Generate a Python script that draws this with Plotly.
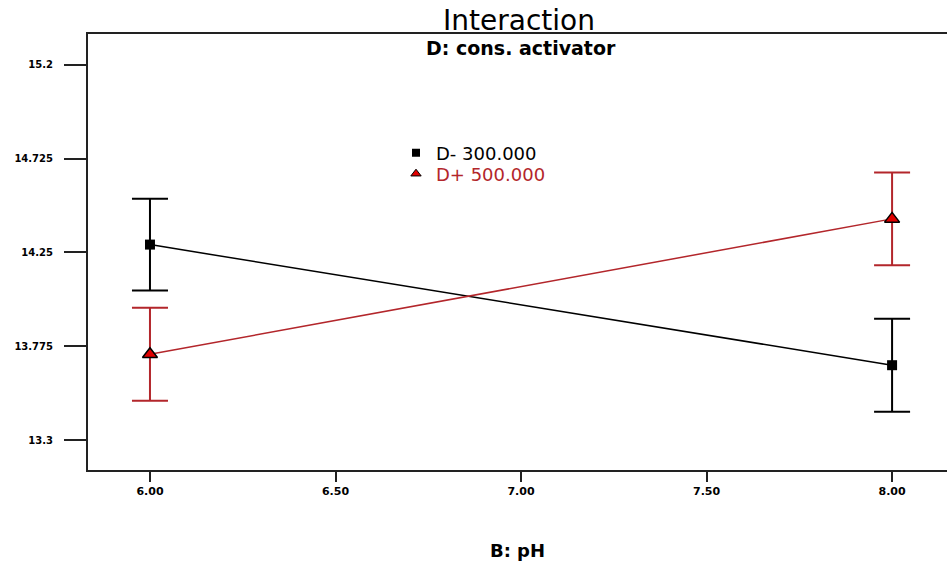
import plotly.graph_objects as go

ph = [6.0, 8.0]
d_minus = [14.29, 13.68]
d_minus_err = [0.232, 0.235]
d_plus = [13.735, 14.42]
d_plus_err = [0.235, 0.235]
ytick_vals = [13.3, 13.775, 14.25, 14.725, 15.2]
ytick_text = ["13.3", "13.775", "14.25", "14.725", "15.2"]
xtick_vals = [6.0, 6.5, 7.0, 7.5, 8.0]
xtick_text = ["6.00", "6.50", "7.00", "7.50", "8.00"]

RED = "#b3262b"
FONT = "DejaVu Sans, Arial, sans-serif"

W, H, L, T, B = 947, 565, 88, 34, 95
pw, phh = W - L, H - T - B


def px(x):
    return (x - L) / pw


def py(y):
    return (H - B - y) / phh


fig = go.Figure()
fig.add_trace(go.Scatter(
    x=ph, y=d_minus, mode="lines+markers", showlegend=False,
    line=dict(color="black", width=1.5),
    marker=dict(symbol="square", size=10, color="black"),
    error_y=dict(type="data", array=d_minus_err, color="black", thickness=2, width=18),
))
fig.add_trace(go.Scatter(
    x=ph, y=d_plus, mode="lines+markers", showlegend=False,
    line=dict(color=RED, width=1.5),
    marker=dict(symbol="triangle-up", size=13, color="#e00000", line=dict(color="black", width=1.5)),
    error_y=dict(type="data", array=d_plus_err, color=RED, thickness=2, width=18),
))
fig.add_trace(go.Scatter(
    x=[None], y=[None], mode="markers", name="D- 300.000", legend="legend",
    marker=dict(symbol="square", size=8, color="black"),
))
fig.add_trace(go.Scatter(
    x=[None], y=[None], mode="markers", name="D+ 500.000", legend="legend2",
    marker=dict(symbol="triangle-up", size=9, color="#e00000", line=dict(color="black", width=1)),
))

leg_common = dict(xanchor="left", yanchor="middle", bgcolor="rgba(0,0,0,0)", itemwidth=30,
                  borderwidth=0)

fig.update_layout(
    width=W, height=H,
    margin=dict(l=L, r=0, t=T, b=B),
    paper_bgcolor="white", plot_bgcolor="white",
    font=dict(family=FONT, color="black"),
    showlegend=True,
    legend=dict(x=px(415 - 19), y=py(153), font=dict(size=18, color="black"), **leg_common),
    legend2=dict(x=px(415 - 19), y=py(174), font=dict(size=18, color=RED), **leg_common),
    xaxis=dict(range=[5.833, 8.148], tickvals=xtick_vals, ticktext=xtick_text,
               showgrid=False, zeroline=False, showline=True, linecolor="#222", linewidth=2,
               mirror=True, ticks="outside", ticklen=10, tickwidth=2, tickcolor="#222",
               tickfont=dict(size=11, color="black", weight="bold"),
               title=dict(text="<b>B: pH</b>", font=dict(size=18), standoff=47)),
    yaxis=dict(range=[13.15, 15.355], tickvals=ytick_vals, ticktext=ytick_text,
               showgrid=False, zeroline=False, showline=True, linecolor="#222", linewidth=2,
               mirror=False, ticks="outside", ticklen=22, tickwidth=2, tickcolor="#222",
               ticklabelstandoff=9,
               tickfont=dict(size=10, color="black", weight="bold")),
    annotations=[
        dict(text="Interaction", x=px(519), y=py(20), xref="paper", yref="paper",
             showarrow=False, yanchor="middle", font=dict(size=28)),
        dict(text="<b>D: cons. activator</b>", x=px(521), y=py(48), xref="paper", yref="paper",
             showarrow=False, yanchor="middle", font=dict(size=19)),
    ],
)

fig.write_html("out.html")
